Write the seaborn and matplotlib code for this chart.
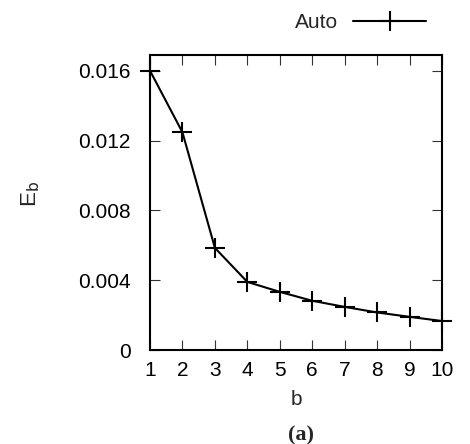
import matplotlib
matplotlib.use("Agg")
import matplotlib.pyplot as plt
import seaborn as sns
import pandas as pd

# Block sizes and measured error
b_values = [1, 2, 3, 4, 5, 6, 7, 8, 9, 10]
eb_values = [0.0160, 0.01247, 0.00585, 0.0039, 0.00333, 0.00282, 0.00247, 0.00215, 0.0019, 0.00166]
series_name = "Auto"
y_ticks = [0, 0.004, 0.008, 0.012, 0.016]
y_tick_labels = ["0", "0.004", "0.008", "0.012", "0.016"]

sns.set_theme(style="ticks")
plt.rcParams["font.family"] = ["Liberation Sans", "DejaVu Sans"]

df = pd.DataFrame({"b": b_values, "E_b": eb_values})

fig = plt.figure(figsize=(4.7, 4.44), dpi=100)
ax = fig.add_axes([150 / 470, 1 - 350 / 444, 292 / 470, 295 / 444])

sns.lineplot(data=df, x="b", y="E_b", ax=ax, color="black", linewidth=1.5,
             marker="+", markersize=15, markeredgewidth=1.5,
             markeredgecolor="black", markerfacecolor="black",
             label=series_name, clip_on=False, legend=False)

ax.set_xlim(1, 10)
ax.set_ylim(0, 0.0169)
ax.set_xticks(b_values)
ax.set_xticklabels([str(v) for v in b_values])
ax.set_yticks(y_ticks)
ax.set_yticklabels(y_tick_labels)

for s in ax.spines.values():
    s.set_visible(True)
    s.set_linewidth(1.5)
    s.set_color("black")

ax.tick_params(axis="both", direction="in", length=7, width=0.8, color="#333333",
               top=True, right=True, labelsize=15, labelcolor="black")
ax.tick_params(axis="y", pad=14)
ax.tick_params(axis="x", pad=8)

ax.set_xlabel("b", fontsize=15, labelpad=7)
ax.set_ylabel(r"E$_\mathrm{b}$", fontsize=16)
ax.yaxis.set_label_coords(-0.37, 0.53)

handles, labels = ax.get_legend_handles_labels()
fig.legend(handles, labels, loc="center right",
           bbox_to_anchor=(426 / 470, 1 - 23 / 444), bbox_transform=fig.transFigure,
           markerfirst=False, frameon=False, handlelength=3.5, handletextpad=0.7,
           borderpad=0, borderaxespad=0, fontsize=15, numpoints=1)

fig.text(301 / 470, 1 - 435 / 444, "(a)", ha="center", va="center", fontsize=16,
         fontweight="bold", family=["Liberation Serif", "DejaVu Serif"])

fig.savefig("out.png", dpi=100)
